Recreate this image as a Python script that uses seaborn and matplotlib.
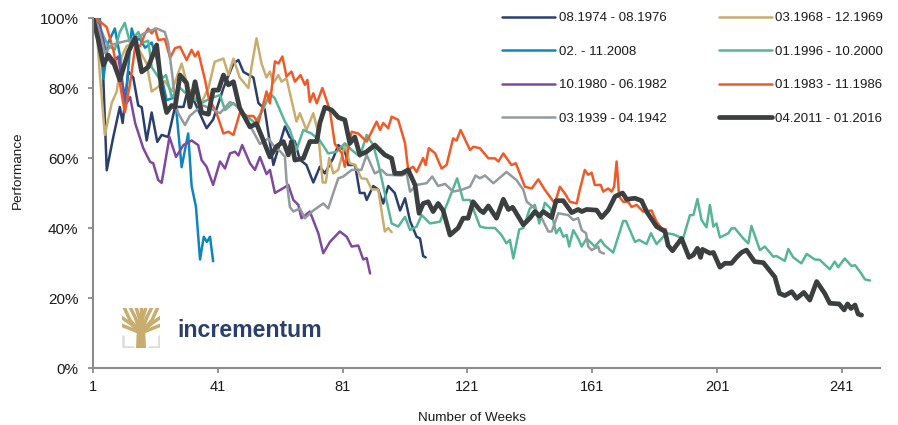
import matplotlib
matplotlib.use("Agg")
import matplotlib.pyplot as plt
from matplotlib.patches import Rectangle
import seaborn as sns

# weeks and performance (%)
WEEKS_1974 = [1, 3, 4, 5.4, 7.5, 9.6, 10.5, 12.3, 13.9, 15.5, 16.6, 18.2, 19.8, 21.6, 23, 25.1, 27.3, 30, 31.5, 33.7, 37.4, 39.5, 42.8, 46, 47.6, 49.2, 52.4, 54, 56, 58.8, 62.5, 64, 65.7, 67.3, 69.4, 71.6, 73.7, 75.3, 78, 79.6, 81.7, 82.8, 85, 86.5, 88, 88.7, 90.8, 92.4, 94, 95.6, 97.7, 99.4, 101, 102.6, 104.7, 105.8, 106.8, 107.6]
PERF_1974 = [100, 100, 90, 56.5, 66, 74.6, 70, 84.7, 83, 75, 74.5, 65, 73, 64.6, 66.6, 66, 74.6, 74.6, 80, 75.7, 68.5, 71, 80, 87, 88, 84.6, 83, 75.7, 74, 58, 69, 66, 64.7, 59.5, 58, 53, 57.5, 55.6, 60, 63.7, 62, 58, 58, 50, 50, 48, 52, 51, 47, 52, 50, 45, 48.5, 42, 37.5, 37, 32, 31.6]

WEEKS_1968 = [1, 2, 3.2, 4.8, 7, 8.6, 10.2, 11.8, 14.5, 18.2, 19.8, 21.4, 24, 26.2, 29.4, 31.5, 35.3, 38, 40, 42.8, 44.4, 46, 48, 50.8, 51.8, 53.4, 55, 56.6, 57.7, 58.8, 60.4, 61.4, 63, 64.6, 66.2, 67.3, 69.4, 71.6, 73.2, 74.6, 75.6, 76.7, 78, 79.6, 81.7, 83.3, 85, 87, 88.7, 90.3, 92.4, 94.5, 95.6, 96.7]
PERF_1968 = [100, 99, 83.7, 66.6, 75.7, 79, 89, 92, 93, 87, 79, 80, 82, 79, 87, 80, 75, 80, 87.5, 88.4, 83.7, 88.4, 83, 80, 86, 94.2, 87, 83, 84.7, 81.4, 83.7, 81.8, 82.8, 76.6, 70.4, 72.8, 68, 72.8, 67, 53, 53, 60, 55.6, 56.6, 63.7, 58.5, 58, 54.2, 54, 51, 51, 39, 40, 38.8]

WEEKS_2008 = [1, 3.2, 4.3, 5.9, 8, 9.6, 11.2, 13.4, 14.5, 16, 17.7, 19.8, 22.5, 24.6, 27.3, 29.4, 31.5, 32.6, 34, 35.3, 36.5, 37.5, 38.5, 39.5]
PERF_2008 = [100, 100, 82.6, 93, 97, 89.4, 74, 97, 93.7, 94, 91.5, 93, 85, 76.5, 77.4, 57.4, 67, 52, 46, 31, 37.5, 36, 37.5, 30.5]

WEEKS_1996 = [1, 2.2, 4.3, 5.9, 8, 9.6, 11.2, 12.9, 15.5, 17.1, 18.7, 19.8, 22.5, 24.4, 26.2, 28.9, 32.1, 35.8, 38.5, 41.7, 43.3, 46, 49.2, 52.9, 55.6, 57.7, 59.3, 60.9, 62.5, 64.1, 66.2, 68.4, 71, 73.7, 76.4, 79.1, 81.7, 83.9, 86.5, 88.7, 90.8, 92.4, 94.5, 96.7, 98.8, 101, 102.6, 104.7, 106.3, 109, 112.2, 115.4, 117.7, 119.6, 121.8, 125, 127.1, 129.8, 131.9, 133.5, 134.6, 135.7, 137.6, 138.9, 141, 142.6, 144, 145.8, 147.6, 149.4, 150.6, 151.7, 152.8, 153.6, 154.9, 156.5, 157.6, 159.2, 161.8, 163.7, 165, 167.7, 170.9, 171.8, 174.7, 176, 178.4, 179.8, 181.6, 184.8, 186.9, 190.1, 192.3, 193.4, 194.7, 196, 197.6, 198.7, 199.8, 200.8, 201.9, 204.6, 205.6, 206.7, 209.4, 211, 212, 214.7, 216.3, 219, 220, 222.7, 223.8, 225.4, 228, 229.7, 232.3, 233.9, 237.1, 238.7, 239.8, 241.9, 244.1, 245.2, 246.8, 248.4, 250]
PERF_1996 = [100, 100, 95, 92, 91, 96, 98.6, 92.8, 96, 93, 93.5, 86, 82.3, 83.7, 77.4, 80, 77.4, 75.7, 77, 78, 73.7, 75.7, 72.8, 70, 74, 78.5, 77, 73.7, 70.4, 68, 62.3, 68, 67, 65, 61.3, 61.8, 64.2, 62.3, 60.4, 66.6, 63.7, 58.5, 50, 41.3, 40.4, 43.2, 39.4, 40.4, 43.7, 41.3, 41.8, 49, 54.2, 48, 48, 40.4, 40, 40, 38, 35.6, 36.6, 31.3, 39.6, 40, 45.6, 46.6, 41.3, 47.2, 45.6, 38.5, 40, 37.5, 38, 34.7, 39.4, 37, 34.7, 37, 34.7, 36.6, 35, 33, 42, 42, 36, 36.6, 35.4, 38.5, 35.4, 38.5, 38.2, 37, 43.7, 43.7, 48.3, 42.3, 40.2, 46.6, 40.4, 41.3, 37.3, 38.5, 39.9, 39.9, 37, 35.6, 40.6, 33.7, 34.7, 31.8, 32, 30.6, 34, 31.6, 29.9, 32.6, 31, 30.9, 28.2, 30.4, 28.8, 31.3, 29.1, 29.4, 27.5, 25.3, 25]

WEEKS_1980 = [1, 3, 4.3, 5.4, 7, 9.1, 10.2, 11.8, 12.9, 14.5, 17.1, 19.3, 20.3, 21.9, 23, 25.5, 27.6, 30, 32.6, 34.7, 35.8, 37.4, 39.5, 41.7, 43.3, 44.9, 46.5, 47.6, 48.8, 51.3, 52.9, 54.5, 56.6, 57.7, 59.3, 62, 63.6, 65.2, 66.8, 67.8, 70.5, 73.2, 74.8, 76.9, 80.1, 82.3, 83.9, 86, 87.6, 88.7, 89.8]
PERF_1980 = [100, 98, 93.7, 89, 87, 89, 82, 75.7, 77.4, 70, 62.8, 58.9, 58.5, 53.7, 52.9, 66, 60.3, 63.7, 65, 63.7, 59.4, 57.5, 52.3, 59, 57, 61.3, 61.8, 60.7, 63.7, 58.5, 56.6, 60.3, 55.4, 56.6, 50, 51.4, 52.3, 48, 46.6, 42.8, 44.7, 38.5, 32.8, 36, 39, 37.5, 34.7, 35, 31, 31.4, 27]

WEEKS_1983 = [1, 1.6, 3.8, 5.4, 7.5, 9.6, 11.2, 12.9, 14.5, 16.1, 17.7, 18.7, 19.8, 20.9, 21.9, 24, 25.7, 27.3, 28.9, 31, 32.6, 33.7, 34.7, 36.9, 38, 40.6, 42.8, 44.4, 46, 48.1, 50.2, 52.4, 54, 56.6, 57.7, 59.3, 60.4, 61.7, 63, 64.6, 65.7, 67.5, 68.9, 69.7, 70.5, 71.6, 72.7, 74.5, 76.9, 78.5, 80.7, 81.7, 83.9, 86, 88.7, 91.9, 93, 94, 95.6, 96.7, 98.8, 101, 102, 103.6, 104.7, 106.8, 107.6, 108.6, 110.6, 112.7, 114.3, 116.4, 117.5, 118.8, 121.8, 122.9, 125, 127.7, 129.8, 130.9, 132.5, 135.1, 136.5, 139.4, 141.6, 143.7, 145.8, 149, 150.6, 152.2, 153.8, 156, 157, 158.6, 159.7, 160.8, 161.8, 163.7, 164.5, 166.1, 167.2, 168, 168.8, 169.6, 170.9, 172.5, 173.6, 175.2, 177.3, 180, 181.6, 183.2, 184.6]
PERF_1983 = [100, 100, 98.6, 97.4, 90.9, 81.4, 73, 81.4, 91.7, 92, 95.6, 97, 95.6, 97, 93.7, 94, 88.6, 91.4, 91.8, 88, 90.9, 89, 90.4, 82.3, 77.4, 72.8, 67, 67.5, 66.6, 73, 72, 72, 70, 79, 75.6, 87.6, 87, 89, 83.3, 84.7, 81.8, 83.7, 80.9, 82.3, 76, 78.5, 75.6, 80, 73.7, 64, 61.4, 57.5, 67.5, 67, 64.7, 70.4, 68, 70, 68.5, 71.8, 70.9, 64.2, 56.6, 57.5, 56, 60, 58, 62.8, 61.4, 57, 58, 65.6, 65, 68, 62.3, 63.2, 62.8, 59.9, 59.9, 59, 61.3, 58, 58.5, 51.8, 51.3, 53.9, 50.9, 47, 51.8, 49.9, 47.5, 47, 50.9, 56.6, 55.2, 55.8, 52.3, 52.3, 50.4, 51.3, 50.4, 51.8, 59, 49, 47.5, 47.5, 46, 46.6, 44.7, 45, 41.8, 39.9, 39.6]

WEEKS_1939 = [1, 2.5, 4.8, 7, 9.6, 12.9, 15.5, 18.2, 21.4, 24, 25.1, 26.5, 27.3, 28.3, 30.5, 32, 34.2, 36.3, 39, 41.7, 44.9, 47.6, 50.2, 52.4, 54.5, 57.2, 59.3, 60.9, 62.5, 63, 64.1, 65.2, 67.3, 68.9, 71.6, 74.8, 76.4, 78, 79.6, 81.2, 83.9, 87, 88.7, 91.3, 93.5, 95.1, 99.9, 101.5, 102.6, 104.7, 107.9, 109.7, 111.6, 113.8, 116.4, 119.1, 121.8, 123.6, 125, 126.6, 129.3, 133.5, 136.7, 138.9, 140, 142.6, 144.8, 146.9, 148, 150.1, 153.3, 154.9, 156.5, 157.6, 159, 159.7, 160.8, 162.9, 163.4, 164.7]
PERF_1939 = [100, 98, 90, 92.3, 93, 93.7, 94.6, 96, 97, 96, 92.8, 83, 75.7, 72.8, 69.4, 72, 73.7, 75, 74, 72.8, 76, 74.6, 70.8, 67.5, 64, 65.6, 63, 62, 60.4, 53.7, 46, 44.7, 45.6, 42.8, 45, 47, 45.6, 50, 54.2, 54.7, 56.6, 56.6, 60.9, 55.6, 56.6, 55.2, 55, 55.6, 50.4, 52.3, 52.8, 54.7, 52, 52.6, 50.4, 50.9, 51.8, 55, 54.2, 55, 52.8, 56, 53.7, 50.9, 47.5, 45.6, 42.8, 39, 39, 44.2, 43.7, 42.3, 42.8, 39.4, 38.5, 34.7, 33.7, 34.7, 33.2, 32.7]

WEEKS_2011 = [1, 2.7, 4.3, 5.9, 7.5, 9.6, 12.3, 14.5, 16.6, 18.7, 21.4, 23, 24.6, 26.2, 27.3, 28.9, 31, 32.1, 33.7, 35.8, 38, 39.5, 41.2, 42.8, 44.4, 46, 48, 51.3, 53.4, 55.6, 57.7, 59.8, 62, 63.6, 64.6, 65.7, 68.4, 70.5, 72.7, 73.7, 75.3, 77.5, 79.6, 81.7, 83.3, 84.9, 86.5, 88.7, 91.3, 94.5, 96.7, 97.7, 99.9, 102, 104.2, 105.5, 106.8, 108.4, 110, 111.6, 113.2, 115.4, 118, 119.6, 121.2, 122.8, 125, 126.1, 127.7, 130.3, 132.5, 134.1, 135.5, 138.9, 141, 142.6, 144, 145.3, 148, 149.4, 151.7, 154.4, 156.5, 157.6, 159.2, 162.4, 164, 166.1, 168.3, 170.7, 172, 174.7, 176.8, 178.4, 181.6, 184.3, 185.3, 186.7, 189.6, 192, 193.4, 194.7, 195.7, 196.3, 198.7, 199.8, 201.9, 203.5, 205.6, 207.2, 208.8, 210.4, 213, 215.8, 219.5, 221, 222.7, 224.9, 226.5, 228.8, 230.7, 232.9, 235.5, 237.1, 240.1, 241.7, 242.8, 243.9, 245.2, 246.2, 247.3]
PERF_2011 = [100, 93.7, 86.6, 89.4, 87.5, 82.3, 90.3, 94.3, 84.6, 86, 92.3, 79.4, 73, 75, 74.5, 83.7, 81.4, 74.6, 81.8, 73, 72.5, 79.4, 79.4, 83.7, 80.9, 81.8, 74.3, 68.9, 69.8, 65, 60.3, 63.3, 64.7, 60.9, 64.7, 59.4, 59.9, 64.7, 64.7, 70, 74.5, 73.7, 71.6, 70.9, 64.2, 66, 60.9, 61.8, 63.7, 60.9, 59.9, 55.6, 55.6, 56.6, 52.3, 44.2, 47, 47.5, 44.7, 47, 45, 38, 40, 42.8, 42.8, 47.5, 45.1, 44.4, 46.3, 42.8, 48.2, 45.3, 45.9, 40.9, 42.8, 44.7, 43.4, 44.7, 43, 47.8, 47.8, 44.4, 45.3, 44.7, 45.3, 45.1, 43, 45.1, 49, 50, 48.2, 48.5, 47.8, 44.7, 40.4, 39, 35, 33.5, 37, 31.6, 32.3, 34.2, 31.6, 33.9, 32.8, 33, 28.8, 29.9, 29.9, 31.6, 33, 33.7, 30.4, 30.1, 26, 21.3, 20.7, 21.8, 19.9, 21.6, 19.4, 24.7, 21.3, 18.5, 18.3, 16.6, 18.3, 17, 18, 15.4, 15.1]

# drawn in this order, the dark line last so it stays on top
SERIES = [
    ("08.1974 - 08.1976", WEEKS_1974, PERF_1974, "#2b3f6e", 1.8),
    ("03.1968 - 12.1969", WEEKS_1968, PERF_1968, "#c8ad6e", 1.8),
    ("02. - 11.2008", WEEKS_2008, PERF_2008, "#0f86bb", 1.8),
    ("01.1996 - 10.2000", WEEKS_1996, PERF_1996, "#57b597", 1.8),
    ("10.1980 - 06.1982", WEEKS_1980, PERF_1980, "#7d4a9e", 1.8),
    ("01.1983 - 11.1986", WEEKS_1983, PERF_1983, "#f05a28", 1.8),
    ("03.1939 - 04.1942", WEEKS_1939, PERF_1939, "#929a9e", 1.8),
    ("04.2011 - 01.2016", WEEKS_2011, PERF_2011, "#3c3f3f", 3.4),
]
LEGEND_ORDER = [0, 2, 4, 6, 1, 3, 5, 7]
X_TICKS = [1, 41, 81, 121, 161, 201, 241]
Y_TICKS = [0, 20, 40, 60, 80, 100]

W, H = 898, 425
GOLD = "#c8ad6e"
NAVY = "#2a3f6b"
INK = "#1a1a1a"

sns.set_theme(style="white")
plt.rcParams["font.family"] = ["Liberation Sans", "DejaVu Sans"]

fig = plt.figure(figsize=(W / 100, H / 100), dpi=100)
ax = fig.add_axes([93 / W, 1 - 368 / H, 787 / W, 350 / H])

for label, weeks, perf, color, width in SERIES:
    sns.lineplot(x=weeks, y=perf, color=color, linewidth=width, label=label,
                 estimator=None, sort=False, ax=ax, solid_joinstyle="round")

ax.set_xlim(1, 253.2)
ax.set_ylim(0, 100)
ax.set_xticks(X_TICKS)
ax.set_yticks(Y_TICKS)
ax.set_yticklabels([f"{v}%" for v in Y_TICKS])
ax.tick_params(axis="x", labelsize=10.5, length=3.5, width=1.3, color="#8c8c8c",
               labelcolor=INK, pad=5, bottom=True)
ax.tick_params(axis="y", labelsize=11, length=3.5, width=1.3, color="#8c8c8c",
               labelcolor=INK, pad=7, left=True)
fig.text(472 / W, 1 - 418 / H, "Number of Weeks", fontsize=9.7, color=INK,
         ha="center", va="center")
fig.text(18 / W, 1 - 170 / H, "Performance", fontsize=9.7, color=INK,
         ha="center", va="center", rotation=90)
sns.despine(ax=ax)
for side in ("left", "bottom"):
    ax.spines[side].set_color("#8c8c8c")
    ax.spines[side].set_linewidth(1.5)

handles, labels = ax.get_legend_handles_labels()
ax.legend([handles[i] for i in LEGEND_ORDER], [labels[i] for i in LEGEND_ORDER],
          ncol=2, loc="upper left", bbox_to_anchor=((502 - 93) / 787, 1.017),
          frameon=False, fontsize=9.55, borderpad=0, borderaxespad=0,
          handlelength=4.0, handletextpad=0.28, columnspacing=3.92,
          labelspacing=1.6, labelcolor=INK)

# logo: tree mark plus wordmark
logo = fig.add_axes([122 / W, 1 - 348 / H, 38 / W, 40 / H])
logo.set_xlim(0, 38)
logo.set_ylim(40, 0)
logo.axis("off")
for xs, ys in [([0.7, 0.7, 11], [28, 39, 39]), ([37.3, 37.3, 27], [28, 39, 39])]:
    logo.plot(xs, ys, color="#dcdcdc", lw=1.8, zorder=0)
logo.fill([15, 23, 24, 14], [18, 18, 40, 40], color=GOLD, lw=0)
clip = Rectangle((0, 0), 38, 27, transform=logo.transData)
for x_end, y_end, x_mid, y_mid in [
    (2, -1, 8, 12), (8, -1, 13, 9), (14, -1, 17, 9), (19, -1, 19, 10),
    (24, -1, 21, 9), (30, -1, 25, 9), (36, -1, 30, 12),
    (-1, 9, 9, 16), (39, 9, 29, 16), (-1, 17, 9, 21), (39, 17, 29, 21),
]:
    branch, = logo.plot([x_end, x_mid, 19], [y_end, y_mid, 25], color=GOLD, lw=2.5)
    branch.set_clip_path(clip)
fig.text(177 / W, 1 - 337 / H, "incrementum", fontsize=16.7, fontweight="bold",
         color=NAVY, family="Liberation Sans")

fig.savefig("out.png", dpi=100)
